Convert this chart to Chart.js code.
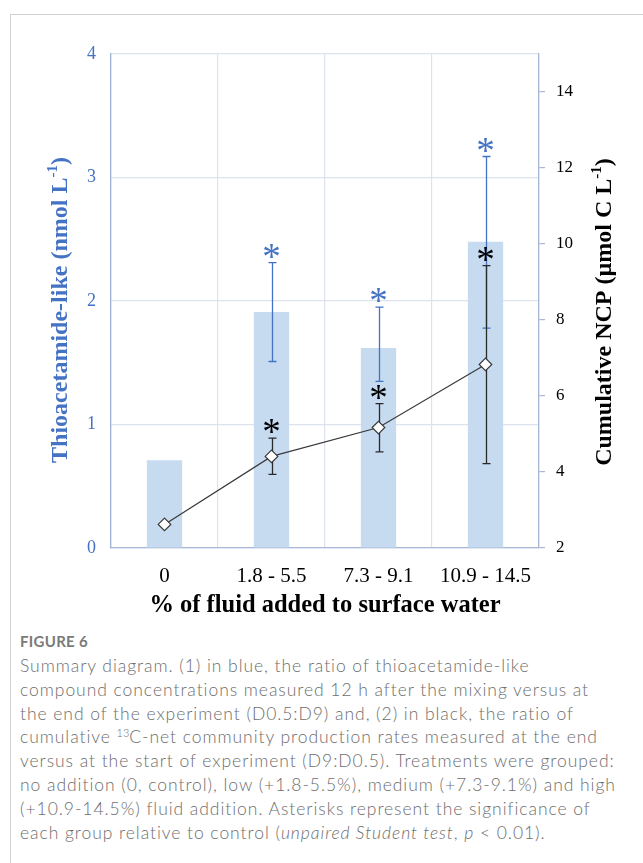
<!DOCTYPE html>
<html>
<head>
<meta charset="utf-8">
<script src="https://cdn.jsdelivr.net/npm/chart.js@4.4.1/dist/chart.umd.min.js"></script>
<style>
  html, body { margin: 0; padding: 0; background: #fff; width: 643px; height: 863px; overflow: hidden; }
  #frame { position: absolute; left: 10px; top: 14px; width: 700px; height: 900px;
           border-left: 1px solid #d2d2d2; border-top: 1px solid #d2d2d2; }
  #wrap { position: absolute; left: 0; top: 0; width: 643px; height: 625px; }
  #fig { position: absolute; left: 20px; top: 632px; font-family: Lato, "Open Sans", sans-serif;
         font-size: 15px; line-height: 18px; font-weight: 700; color: #7a7a7a; letter-spacing: 0.3px; }
  #cap { position: absolute; left: 20px; top: 654px; font-family: Lato, "Open Sans", sans-serif;
         font-size: 17.5px; font-weight: 300; line-height: 23.8px; color: #6e6e6e; white-space: nowrap;
         letter-spacing: 0.95px; }
  #cap sup { font-size: 0.62em; line-height: 0; vertical-align: 0.55em; letter-spacing: 0; }
</style>
</head>
<body>
<div id="frame"></div>
<div id="wrap"><canvas id="c" width="643" height="625"></canvas></div>
<div id="fig">FIGURE 6</div>
<div id="cap">Summary diagram. (1) in blue, the ratio of thioacetamide-like<br>compound concentrations measured 12 h after the mixing versus at<br>the end of the experiment (D0.5:D9) and, (2) in black, the ratio of<br>cumulative <sup>13</sup>C-net community production rates measured at the end<br>versus at the start of experiment (D9:D0.5). Treatments were grouped:<br>no addition (0, control), low (+1.8-5.5%), medium (+7.3-9.1%) and high<br>(+10.9-14.5%) fluid addition. Asterisks represent the significance of<br>each group relative to control (<i>unpaired Student test</i>, <i>p</i> &lt; 0.01).</div>
<script>
// Treatment groups (% of fluid added to surface water)
const categories = ['0', '1.8 - 5.5', '7.3 - 9.1', '10.9 - 14.5'];

// Thioacetamide-like compounds (left axis, nmol L-1) with error-bar limits
const thioValues = [0.71, 1.91, 1.62, 2.48];
const thioUpper  = [null, 2.31, 1.95, 3.17];
const thioLower  = [null, 1.51, 1.35, 1.78];
const thioSignificant = [false, true, true, true];

// Cumulative NCP (right axis, µmol C L-1) with error-bar limits
const ncpValues = [2.62, 4.41, 5.17, 6.83];
const ncpUpper  = [null, 4.89, 5.80, 9.43];
const ncpLower  = [null, 3.94, 4.53, 4.22];
const ncpSignificant = [false, true, true, true];

// Axis ticks
const leftTicks  = [0, 1, 2, 3, 4];
const rightTicks = [2, 4, 6, 8, 10, 12, 14];

const BLUE = '#4472c4';
const SERIF = '"Liberation Serif", "Times New Roman", serif';

// Vertical error bars with caps; bars get them on top, the line gets them underneath its markers
function drawErrorBars(chart, index) {
  const ds = chart.data.datasets[index];
  const meta = chart.getDatasetMeta(index);
  const yScale = chart.scales[ds.yAxisID];
  const ctx = chart.ctx;
  ctx.save();
  ctx.strokeStyle = ds.errColor;
  ctx.lineWidth = 1.3;
  ds.errUpper.forEach((hi, i) => {
    const lo = ds.errLower[i];
    if (hi == null || lo == null) return;
    const x = Math.round(meta.data[i].x) + 0.5;
    const yHi = yScale.getPixelForValue(hi);
    const yLo = yScale.getPixelForValue(lo);
    ctx.beginPath();
    ctx.moveTo(x, yHi); ctx.lineTo(x, yLo);
    ctx.moveTo(x - 4, yHi); ctx.lineTo(x + 4, yHi);
    ctx.moveTo(x - 4, yLo); ctx.lineTo(x + 4, yLo);
    ctx.stroke();
  });
  ctx.restore();
}

// Significance asterisks above the upper error-bar caps
function drawAsterisks(chart, index) {
  const ds = chart.data.datasets[index];
  const meta = chart.getDatasetMeta(index);
  const yScale = chart.scales[ds.yAxisID];
  const ctx = chart.ctx;
  ctx.save();
  ctx.font = '37px ' + SERIF;
  ctx.fillStyle = ds.errColor === BLUE ? BLUE : '#000';
  ctx.textAlign = 'center';
  ctx.textBaseline = 'alphabetic';
  const m = ctx.measureText('*');
  const mid = (m.actualBoundingBoxAscent - m.actualBoundingBoxDescent) / 2;
  ds.significant.forEach((sig, i) => {
    if (!sig) return;
    const x = meta.data[i].x;
    const yc = yScale.getPixelForValue(ds.errUpper[i]) - 11.5;
    ctx.fillText('*', x, yc + mid);
  });
  ctx.restore();
}

// Rotated axis title with a superscript exponent
function drawYTitle(ctx, cx, cy, main, sup, tail, color) {
  ctx.save();
  ctx.translate(cx, cy);
  ctx.rotate(-Math.PI / 2);
  ctx.fillStyle = color;
  ctx.textBaseline = 'middle';
  ctx.textAlign = 'left';
  const fMain = 'bold 24px ' + SERIF;
  const fSup = 'bold 15px ' + SERIF;
  ctx.font = fMain; const w1 = ctx.measureText(main).width; const w3 = ctx.measureText(tail).width;
  ctx.font = fSup; const w2 = ctx.measureText(sup).width;
  let x = -(w1 + w2 + w3) / 2;
  ctx.font = fMain; ctx.fillText(main, x, 0); x += w1;
  ctx.font = fSup; ctx.fillText(sup, x, -8); x += w2;
  ctx.font = fMain; ctx.fillText(tail, x, 0);
  ctx.restore();
}

const annotations = {
  id: 'annotations',
  beforeDatasetDraw(chart, args) {
    const ds = chart.data.datasets[args.index];
    if (ds.errUpper && !ds.errOnTop) drawErrorBars(chart, args.index);
  },
  afterDatasetDraw(chart, args) {
    const ds = chart.data.datasets[args.index];
    if (ds.errUpper && ds.errOnTop) drawErrorBars(chart, args.index);
  },
  afterDraw(chart) {
    chart.data.datasets.forEach((ds, i) => { if (ds.significant) drawAsterisks(chart, i); });
    const a = chart.chartArea;
    const cy = (a.top + a.bottom) / 2 + 9;
    drawYTitle(chart.ctx, 61, cy, 'Thioacetamide-like (nmol L', '-1', ')', BLUE);
    drawYTitle(chart.ctx, 605, cy + 2, 'Cumulative NCP (\u00b5mol C L', '-1', ')', '#000');
  }
};

new Chart(document.getElementById('c'), {
  type: 'bar',
  data: {
    labels: categories,
    datasets: [
      {
        type: 'line',
        label: 'Cumulative NCP',
        data: ncpValues,
        yAxisID: 'y1',
        order: 0,
        borderColor: '#3a3a3a',
        borderWidth: 1.2,
        tension: 0,
        pointStyle: 'rectRot',
        pointRadius: 6.3,
        pointBackgroundColor: '#ffffff',
        pointBorderColor: '#3a3a3a',
        pointBorderWidth: 1.2,
        errUpper: ncpUpper,
        errLower: ncpLower,
        errColor: '#2a2a2a',
        errOnTop: false,
        significant: ncpSignificant
      },
      {
        type: 'bar',
        label: 'Thioacetamide-like',
        data: thioValues,
        yAxisID: 'y',
        order: 1,
        backgroundColor: '#c6dbf0',
        borderWidth: 0,
        barPercentage: 0.33,
        categoryPercentage: 1.0,
        errUpper: thioUpper,
        errLower: thioLower,
        errColor: BLUE,
        errOnTop: true,
        significant: thioSignificant
      }
    ]
  },
  options: {
    responsive: false,
    animation: false,
    devicePixelRatio: 1,
    layout: { padding: { top: 54, left: 0, right: 0, bottom: 0 } },
    plugins: { legend: { display: false }, tooltip: { enabled: false } },
    scales: {
      x: {
        offset: true,
        grid: { offset: true, color: '#dce3ef', lineWidth: 1.2, drawTicks: false },
        border: { color: '#a9b8d6', width: 1.3 },
        ticks: { color: '#000', font: { family: SERIF, size: 21 }, padding: 16 },
        title: {
          display: true,
          text: '% of fluid added to surface water',
          color: '#000',
          font: { family: SERIF, size: 24.5, weight: 'bold' },
          padding: { top: 0, bottom: 5 }
        },
        afterFit(s) { s.height = 77; }
      },
      y: {
        position: 'left',
        min: 0, max: 4,
        afterBuildTicks(s) { s.ticks = leftTicks.map(v => ({ value: v })); },
        grid: { color: '#dce3ef', lineWidth: 1.2, drawTicks: false },
        border: { color: '#9fb1d4', width: 1.3 },
        ticks: { color: BLUE, font: { family: SERIF, size: 18 }, padding: 15 },
        afterFit(s) { s.width = 111; }
      },
      y1: {
        position: 'right',
        min: 2, max: 15,
        afterBuildTicks(s) { s.ticks = rightTicks.map(v => ({ value: v })); },
        grid: { drawOnChartArea: false, drawTicks: true, tickLength: 6, tickColor: '#a9b8d6', lineWidth: 1.2 },
        border: { color: '#a9b8d6', width: 1.3 },
        ticks: { color: '#000', font: { family: SERIF, size: 17 }, padding: 11 },
        afterFit(s) { s.width = 104; }
      }
    }
  },
  plugins: [annotations]
});
</script>
</body>
</html>
